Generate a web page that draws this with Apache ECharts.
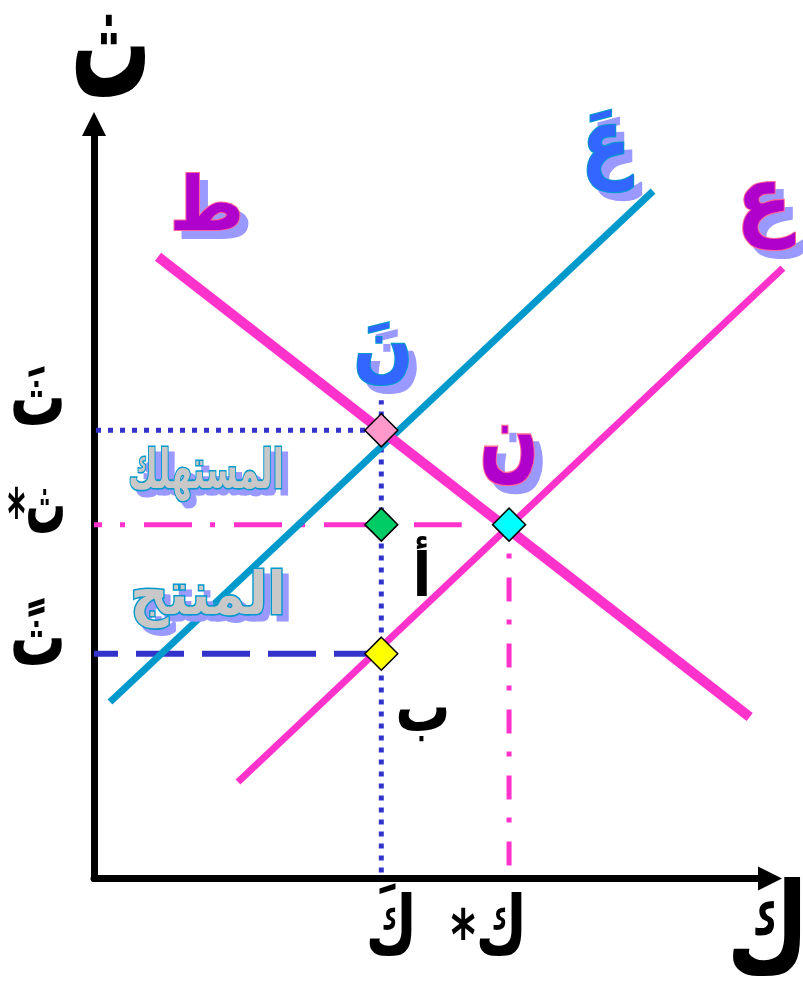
<!DOCTYPE html>
<html><head><meta charset="utf-8">
<script src="https://cdn.jsdelivr.net/npm/echarts@6/dist/echarts.min.js"></script>
<style>html,body{margin:0;padding:0;background:#fff}#c{width:803px;height:985px}</style>
</head><body><div id="c"></div>
<script>
// ---- data (quantity 0-100 on x, price 0-100 on y) ----
const demandLine = [[9.47, 82.4], [97.0, 21.4]];        // ط
const supplyLine = [[21.3, 12.8], [101.9, 80.9]];       // ع
const supplyShiftLine = [[2.37, 23.4], [82.7, 91.1]];   // عَ
const qPrime = 42.5, qStar = 61.4;
const pPrime = 59.4, pStar = 46.9, pDouble = 29.8;
const qPrimeTop = 63.4;     // top of the dotted vertical guide
const pStarGuideEnd = 54.4; // end of the dash-dot horizontal guide
const pointNames = ['pink', 'green', 'cyan', 'yellow'];
const pointValues = [[qPrime, pPrime], [qPrime, pStar], [qStar, pStar], [qPrime, pDouble]];
const yTickValues = [pPrime, pStar, pDouble];
const yTickLabels = ['ثَ', '*ث', 'ثً'];
const xTickValues = [qPrime, qStar];
const xTickLabels = ['كَ', '*ك'];
const yAxisName = 'ث', xAxisName = 'ك';

// ---- layout / style ----
const pointColors = {pink: '#FF99CC', green: '#00CC66', cyan: '#00FFFF', yellow: '#FFFF00'};
const yTickShift = [-26, -13, -10];
const yTickScaleX = [1, 0.72, 1];
const FONT = '"DejaVu Sans", sans-serif';
const GRID = {left: 94, top: 124, bottom: 106.5};
const W = 803, AXIS_END = 770, WIDE_END = 800;
const xMaxWide = 100 * (WIDE_END - GRID.left) / (AXIS_END - GRID.left);
const MAGENTA = '#B000CC';

function fancy(text, x, y, size, fill, stroke, sw, off, sx, sy) {
  const base = {text: text, font: 'bold ' + size + 'px ' + FONT, textAlign: 'center', textVerticalAlign: 'middle'};
  return [
    {type: 'text', x: x + off, y: y + off, scaleX: sx, scaleY: sy, z: 50, silent: true,
      style: Object.assign({}, base, {fill: '#9999FF', stroke: '#9999FF', lineWidth: sw})},
    {type: 'text', x: x, y: y, scaleX: sx, scaleY: sy, z: 51, silent: true,
      style: Object.assign({}, base, {fill: fill, stroke: stroke, lineWidth: sw})}
  ];
}
function plain(text, x, y, size, sx, sy, align) {
  return {type: 'text', x: x, y: y, scaleX: sx || 1, scaleY: sy || 1, z: 51, silent: true,
    style: {text: text, font: 'bold ' + size + 'px ' + FONT, fill: '#000', textAlign: align || 'center', textVerticalAlign: 'middle'}};
}
// label whose leading "*" is drawn lower, as in the original
function starred(label, x, y, size, sx, sy, starDrop) {
  const star = label.charAt(0) === '*';
  const text = star ? '{s|*}{m|' + label.slice(1) + '}' : label;
  return {type: 'text', x: x, y: y, scaleX: sx, scaleY: sy, z: 51, silent: true,
    style: {text: text, font: 'bold ' + size + 'px ' + FONT, fill: '#000', textAlign: 'right', textVerticalAlign: 'middle',
      rich: {s: {fontSize: size * 0.85, fontWeight: 'bold', fontFamily: FONT, fill: '#000', padding: [starDrop, 0, 0, 0]},
             m: {fontSize: size, fontWeight: 'bold', fontFamily: FONT, fill: '#000'}}}};
}

const chart = echarts.init(document.getElementById('c'), null, {renderer: 'canvas'});
const guide = (data, color, dash, offset, width) => ({
  type: 'line', data: data, symbol: 'none', silent: true, z: 2,
  lineStyle: {color: color, width: width, type: dash, dashOffset: offset, cap: 'butt'}
});
const hiddenAxis = {type: 'value', min: 0, show: false, splitLine: {show: false}};
chart.setOption({
  animation: false,
  backgroundColor: '#fff',
  grid: [
    {left: GRID.left, right: W - AXIS_END, top: GRID.top, bottom: GRID.bottom, outerBoundsMode: 'none'},
    {left: GRID.left, right: W - WIDE_END, top: GRID.top, bottom: GRID.bottom, outerBoundsMode: 'none'}
  ],
  xAxis: [{
    type: 'value', min: 0, max: 100, splitLine: {show: false}, axisTick: {show: false}, axisLabel: {show: false},
    axisLine: {show: true, symbol: ['none', 'triangle'], symbolSize: [24, 24], lineStyle: {color: '#000', width: 7}}
  }, Object.assign({gridIndex: 1, max: xMaxWide}, hiddenAxis)],
  yAxis: [{
    type: 'value', min: 0, max: 100, splitLine: {show: false}, axisTick: {show: false}, axisLabel: {show: false},
    axisLine: {show: true, symbol: ['none', 'triangle'], symbolSize: [24, 24], lineStyle: {color: '#000', width: 7}}
  }, Object.assign({gridIndex: 1, max: 100}, hiddenAxis)],
  series: [
    guide([[0, pPrime], [qPrime, pPrime]], '#3333CC', [5, 7], 10, 5),
    guide([[qPrime, 0], [qPrime, qPrimeTop]], '#3333CC', [5, 7], 6, 5),
    guide([[0, pStar], [pStarGuideEnd, pStar]], '#FF33CC', [48, 18, 5, 19], 40, 5),
    guide([[qStar, 0], [qStar, pStar]], '#FF33CC', [24, 19, 5, 18], 53, 5),
    guide([[0, pDouble], [qPrime, pDouble]], '#3333CC', [48, 18], 24, 6),
    {type: 'line', name: 'عَ', data: supplyShiftLine, symbol: 'none', z: 3, lineStyle: {color: '#0099CC', width: 7, cap: 'butt'}},
    {type: 'line', name: 'ع', xAxisIndex: 1, yAxisIndex: 1, data: supplyLine, symbol: 'none', z: 3, lineStyle: {color: '#FF33CC', width: 7, cap: 'butt'}},
    {type: 'line', name: 'ط', data: demandLine, symbol: 'none', z: 4, lineStyle: {color: '#FF33CC', width: 10, cap: 'butt'}},
    {type: 'scatter', z: 10, symbol: 'diamond', symbolSize: 33,
      data: pointValues.map((v, i) => ({value: v, itemStyle: {color: pointColors[pointNames[i]]}})),
      itemStyle: {borderColor: '#000', borderWidth: 1.5, opacity: 1}}
  ]
});

// tick labels placed from the axis scales
const P = (x, y) => chart.convertToPixel({gridIndex: 0}, [x, y]);
const x0 = P(0, 0)[0], y0 = P(0, 0)[1];
const yTickText = yTickValues.map((v, i) => starred(yTickLabels[i], 66, P(0, v)[1] + yTickShift[i], 56, yTickScaleX[i], 1.45, 12));
const xTickText = [
  plain(xTickLabels[0], P(xTickValues[0], 0)[0] + 10, y0 + 54, 56, 1, 1.45, 'center'),
  starred(xTickLabels[1], P(xTickValues[1], 0)[0] + 18, y0 + 54, 56, 1, 1.45, 12)
];
chart.setOption({
  graphic: [].concat(
    [plain(yAxisName, x0 + 17, 57, 80, 1, 1.9)],
    [plain(xAxisName, 768, 940, 90, 1, 1.4)],
    yTickText, xTickText,
    fancy('ط', 207, 210, 72, MAGENTA, '#FF6699', 2, 8, 1, 1.05),
    fancy('عَ', 606, 148, 76, '#3366FF', '#0099CC', 2, 8, 0.95, 1.15),
    fancy('ع', 764, 205, 82, MAGENTA, '#FF6699', 2, 8, 1, 1.08),
    fancy('نَ', 383, 352, 70, '#3366FF', '#0099CC', 2, 8, 1, 1.1),
    fancy('ن', 509, 444, 70, MAGENTA, '#FF6699', 2, 8, 1, 1.35),
    fancy('المستهلك', 206, 474, 34, '#C8C8C8', '#0099CC', 2, 6, 0.95, 1.6),
    fancy('المنتج', 208, 599, 38, '#C8C8C8', '#0099CC', 2, 6, 1.4, 1.55),
    [plain('أ', 422, 580, 55, 1, 1.1), plain('ب', 423, 712, 55, 1, 1.3)]
  )
});
</script></body></html>
